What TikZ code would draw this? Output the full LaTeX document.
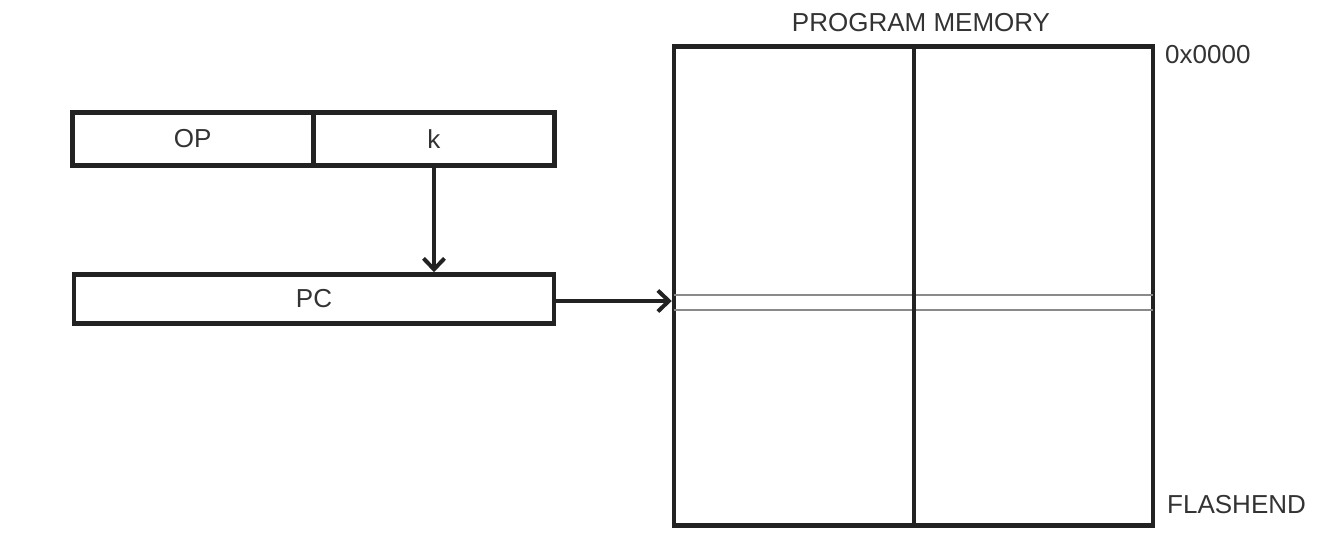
\documentclass[tikz,border=0pt]{standalone}
\usepackage{fontspec}
\setmainfont{Liberation Sans}
\usetikzlibrary{arrows.meta}
\definecolor{ink}{HTML}{222222}
\definecolor{txt}{HTML}{333333}
\definecolor{thin}{HTML}{8A8A8A}
\begin{document}
\begin{tikzpicture}[x=1pt,y=-1pt,
  box/.style={draw=ink,line width=4.5pt,inner sep=0pt,text=txt,font=\fontsize{26}{30}\selectfont},
  lbl/.style={text=txt,inner sep=0pt,font=\fontsize{26}{30}\selectfont},
  conn/.style={draw=ink,line width=4pt,-{Straight Barb[length=11pt,width=21pt,line width=4pt]}},
  sep/.style={draw=thin,line width=2pt}]
\useasboundingbox (0,0) rectangle (1330,554);
% instruction word
\node[box,minimum width=241pt,minimum height=53pt] (op) at (192.75,139) {OP};
\node[box,minimum width=241pt,minimum height=53pt] (k) at (433.75,139) {k};
% program counter
\node[box,minimum width=480pt,minimum height=49pt] (pc) at (314,299) {PC};
% program memory
\node[box,minimum width=479pt,minimum height=479pt] (mem) at (913.5,286) {};
\draw[sep] (674,295) -- (1153,295);
\draw[sep] (674,310) -- (1153,310);
\draw[ink,line width=4pt] (mem.north) -- (mem.south);
\node[lbl,anchor=south] (title) at (921,32) {PROGRAM MEMORY};
\node[lbl,anchor=west] (top) at (1165,55) {0x0000};
\node[lbl,anchor=west] (end) at (1167,505) {FLASHEND};
% connectors
\coordinate (kx) at (434,165);
\draw[conn] (k.south -| kx) -- (pc.north -| kx);
\draw[conn] (pc.east |- 0,301) -- (mem.west |- 0,301);
\end{tikzpicture}
\end{document}
